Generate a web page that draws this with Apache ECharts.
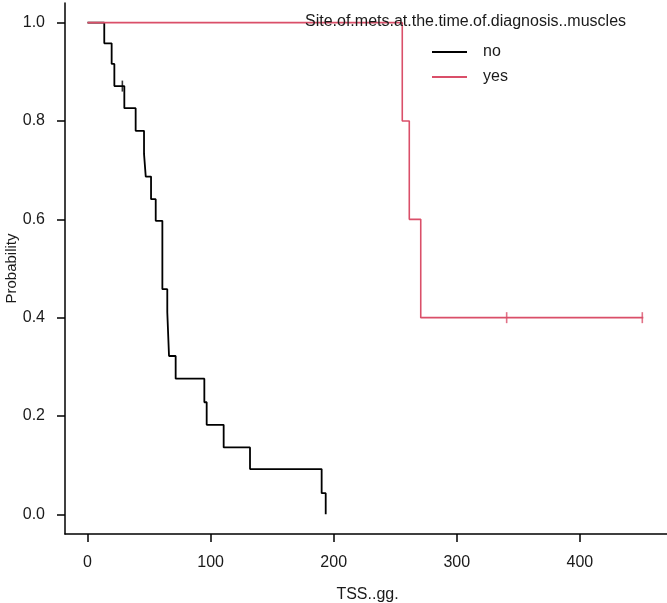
<!DOCTYPE html>
<html>
<head>
<meta charset="utf-8">
<script src="https://cdn.jsdelivr.net/npm/echarts@6/dist/echarts.min.js"></script>
<style>
html,body{margin:0;padding:0;background:#fff;}
#chart{width:667px;height:603px;}
</style>
</head>
<body>
<div id="chart"></div>
<script>
// Kaplan-Meier step points: [time, survival probability]
const noTimes  = [0, 13.6, 19.6, 21.8, 29.9, 39.1, 45.9, 47.3, 51.6, 55.4, 60.8, 64.8, 66.2, 71.6, 94.9, 96.8, 110.6, 132.0, 190.2, 193.5];
const noSurv   = [1.0, 0.958, 0.916, 0.871, 0.826, 0.780, 0.733, 0.687, 0.641, 0.597, 0.458, 0.411, 0.322, 0.276, 0.228, 0.182, 0.136, 0.092, 0.043, 0.0];
const noCensorTimes = [28.3];
const noCensorSurv  = [0.871];

const yesTimes = [0, 255.7, 261.4, 270.7, 451.5];
const yesSurv  = [1.0, 0.8, 0.6, 0.4, 0.4];
const yesCensorTimes = [340.5, 450.7];
const yesCensorSurv  = [0.4, 0.4];

const xTicks = [0, 100, 200, 300, 400];
const yTicks = [0, 0.2, 0.4, 0.6, 0.8, 1.0];

const legendTitle = 'Site.of.mets.at.the.time.of.diagnosis..muscles';
const groupNames = ['no', 'yes'];
const colors = ['#000000', '#DA4F69'];

const zip = (a, b) => a.map((v, i) => [v, b[i]]);
const font = 'Liberation Sans, Arial, sans-serif';
const fs = 16;

const chart = echarts.init(document.getElementById('chart'), null, {renderer: 'canvas'});
chart.setOption({
  animation: false,
  backgroundColor: '#ffffff',
  title: {
    text: legendTitle,
    left: 305, top: 14, padding: 0,
    textStyle: {fontFamily: font, fontSize: fs, fontWeight: 'normal', color: '#1a1a1a'}
  },
  legend: {
    data: groupNames,
    orient: 'vertical',
    left: 432, top: 44, padding: 0,
    itemWidth: 35, itemHeight: 2,
    itemGap: 9,
    icon: 'rect',
    textStyle: {fontFamily: font, fontSize: fs, color: '#1a1a1a', padding: [0, 0, 0, 11]}
  },
  grid: {left: 65, top: 3, width: 605, height: 531, containLabel: false, outerBoundsMode: 'none'},
  xAxis: {
    type: 'value', min: -18.3, max: 473.2,
    name: 'TSS..gg.', nameLocation: 'middle', nameGap: 53, nameMoveOverlap: false,
    nameTextStyle: {fontFamily: font, fontSize: fs, color: '#1a1a1a'},
    axisLine: {show: true, onZero: false, lineStyle: {color: '#000', width: 1.5}},
    axisTick: {show: true, length: 8, inside: false, customValues: xTicks, lineStyle: {color: '#000', width: 1.5}},
    axisLabel: {customValues: xTicks, margin: 21, fontFamily: font, fontSize: fs, color: '#1a1a1a'},
    splitLine: {show: false}
  },
  yAxis: {
    type: 'value', min: -0.04, max: 1.04,
    name: 'Probability', nameLocation: 'middle', nameGap: 46, nameRotate: 90, nameMoveOverlap: false,
    nameTextStyle: {fontFamily: font, fontSize: 15, color: '#1a1a1a'},
    axisLine: {show: true, onZero: false, lineStyle: {color: '#000', width: 1.5}},
    axisTick: {show: true, length: 8, inside: false, customValues: yTicks, lineStyle: {color: '#000', width: 1.5}},
    axisLabel: {customValues: yTicks, margin: 20, fontFamily: font, fontSize: fs, color: '#1a1a1a',
      formatter: v => v.toFixed(1)},
    splitLine: {show: false}
  },
  series: [
    {
      name: groupNames[0], type: 'line', step: 'end', data: zip(noTimes, noSurv),
      showSymbol: false, symbol: 'none',
      lineStyle: {color: colors[0], width: 1.8}, itemStyle: {color: colors[0]}, z: 2
    },
    {
      name: groupNames[1], type: 'line', step: 'end', data: zip(yesTimes, yesSurv),
      showSymbol: false, symbol: 'none',
      lineStyle: {color: colors[1], width: 1.6}, itemStyle: {color: colors[1]}, z: 3
    },
    {
      name: groupNames[0], type: 'scatter', data: zip(noCensorTimes, noCensorSurv),
      symbol: 'rect', symbolSize: [1.6, 11], itemStyle: {color: colors[0]}, z: 4
    },
    {
      name: groupNames[1], type: 'scatter', data: zip(yesCensorTimes, yesCensorSurv),
      symbol: 'rect', symbolSize: [1.6, 11], itemStyle: {color: colors[1]}, z: 4
    }
  ]
});
</script>
</body>
</html>
